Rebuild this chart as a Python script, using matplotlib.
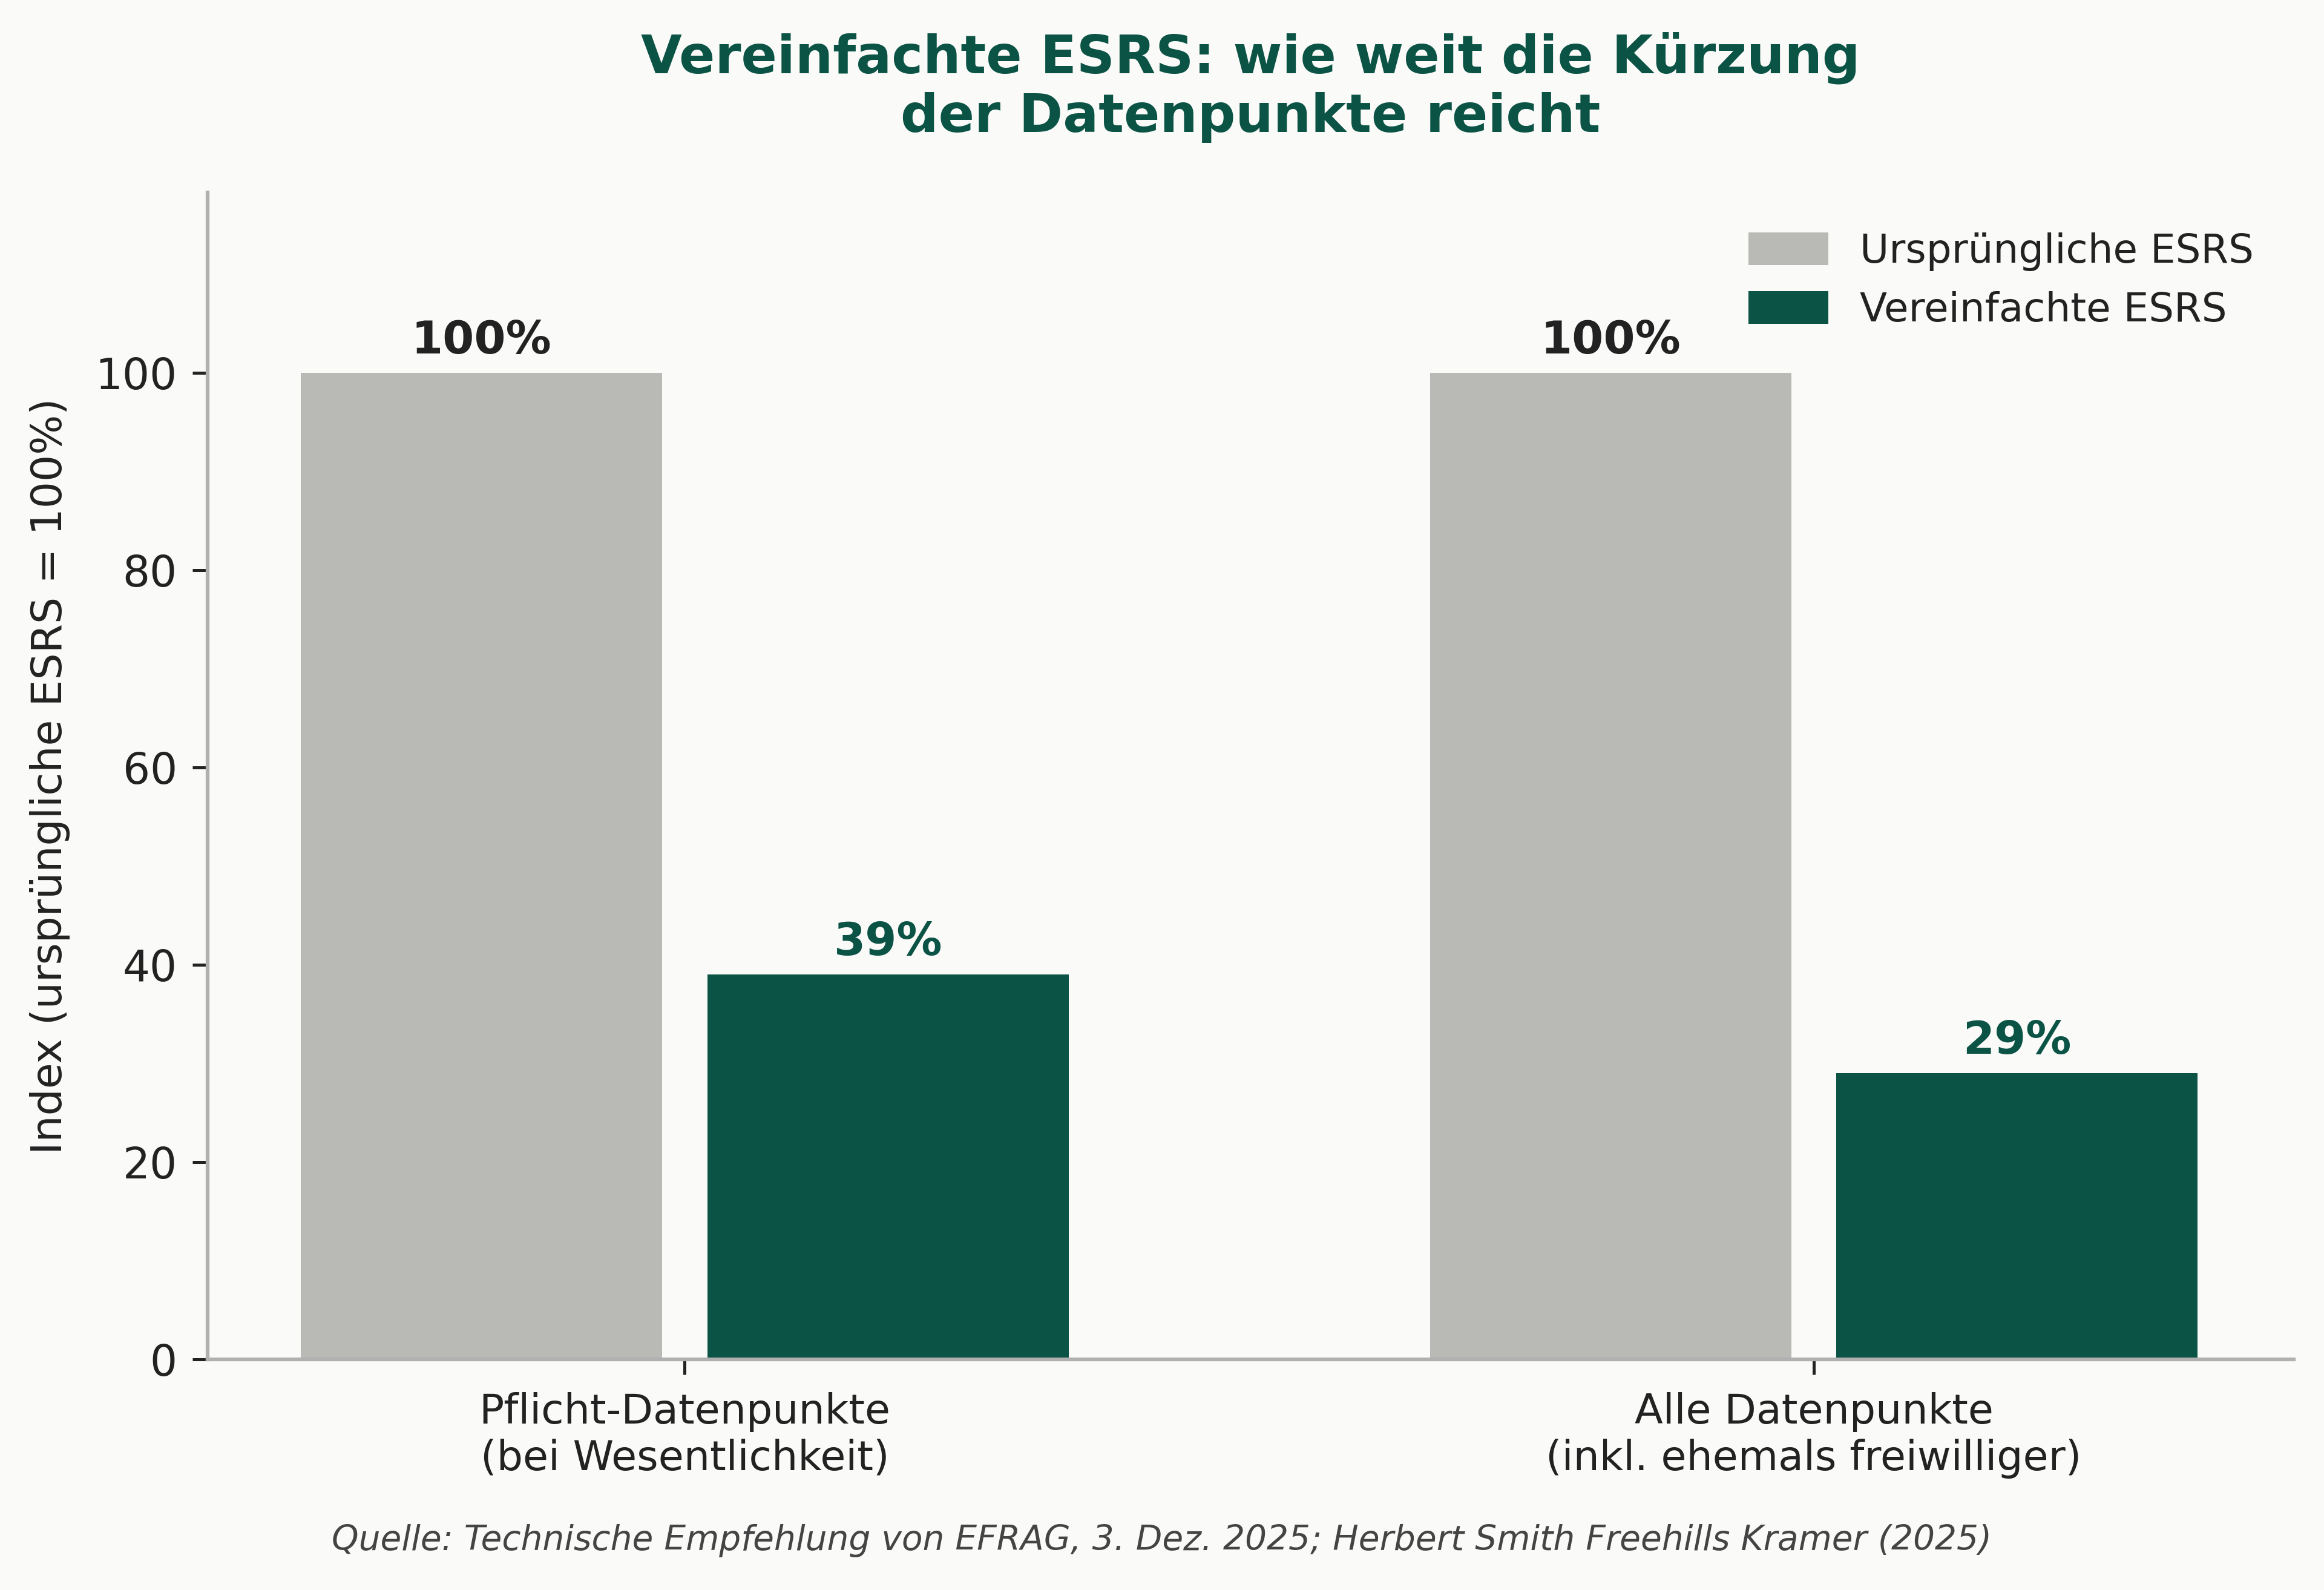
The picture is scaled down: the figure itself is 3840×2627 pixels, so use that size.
import matplotlib.pyplot as plt
import numpy as np

# Daten
kategorien = ['Pflicht-Datenpunkte\n(bei Wesentlichkeit)', 'Alle Datenpunkte\n(inkl. ehemals freiwilliger)']
urspruenglich = [100, 100]
vereinfacht = [39, 29]

grau = '#b9bab5'
gruen = '#0b5345'
hintergrund = '#fafaf8'

plt.rcParams['font.family'] = 'DejaVu Sans'

fig, ax = plt.subplots(figsize=(12.8, 8.757), dpi=300)
fig.patch.set_facecolor(hintergrund)
ax.set_facecolor(hintergrund)

x = np.arange(len(kategorien))
breite = 0.32

b1 = ax.bar(x - 0.18, urspruenglich, breite, color=grau, label='Ursprüngliche ESRS')
b2 = ax.bar(x + 0.18, vereinfacht, breite, color=gruen, label='Vereinfachte ESRS')

ax.bar_label(b1, labels=[f'{v}%' for v in urspruenglich], padding=4,
             fontsize=18, fontweight='bold', color='#222222')
ax.bar_label(b2, labels=[f'{v}%' for v in vereinfacht], padding=4,
             fontsize=18, fontweight='bold', color=gruen)

ax.set_xticks(x)
ax.set_xticklabels(kategorien, fontsize=16.4, color='#222222')
ax.set_xlim(-0.4226, 1.425)
ax.set_ylim(0, 118.3)
ax.set_yticks([0, 20, 40, 60, 80, 100])
ax.tick_params(axis='y', labelsize=17, colors='#222222', pad=6)
ax.tick_params(axis='x', pad=7)
ax.tick_params(axis='both', length=6, width=1.2, color='#222222')
ax.set_ylabel('Index (ursprüngliche ESRS = 100%)', fontsize=16.7, color='#222222', labelpad=10)

for s in ['top', 'right']:
    ax.spines[s].set_visible(False)
for s in ['left', 'bottom']:
    ax.spines[s].set_color('#b0b0b0')
    ax.spines[s].set_linewidth(1.5)

ax.set_title('Vereinfachte ESRS: wie weit die Kürzung\nder Datenpunkte reicht',
             fontsize=21, fontweight='bold', color=gruen, pad=24)

leg = ax.legend(loc='upper right', frameon=False, fontsize=15.8, handlelength=2.0,
                handleheight=0.9, borderaxespad=0.6)
for t in leg.get_texts():
    t.set_color('#222222')

fig.text(0.5, 0.031, 'Quelle: Technische Empfehlung von EFRAG, 3. Dez. 2025; Herbert Smith Freehills Kramer (2025)',
         ha='center', va='center', fontsize=13.6, style='italic', color='#444444')

fig.subplots_adjust(left=0.0893, right=0.987, bottom=0.145, top=0.879)
fig.savefig('out.png', dpi=300, facecolor=hintergrund)
